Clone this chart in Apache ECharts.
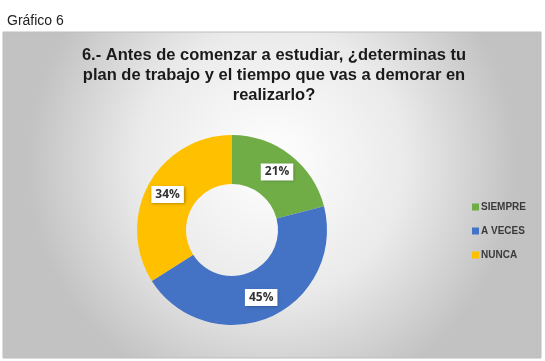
<!DOCTYPE html>
<html>
<head>
<meta charset="utf-8">
<script src="https://cdn.jsdelivr.net/npm/echarts@6/dist/echarts.min.js"></script>
<style>
  html, body { margin: 0; padding: 0; background: #fff; }
  #chart { width: 545px; height: 361px; }
</style>
</head>
<body>
<div id="chart"></div>
<script>
// datos del gráfico
const categorias = ['SIEMPRE', 'A VECES', 'NUNCA'];
const porcentajes = [21, 45, 34];
const colores = ['#70ad47', '#4472c4', '#ffc000'];
const titulo = '6.- Antes de comenzar a estudiar, ¿determinas tu\nplan de trabajo y el tiempo que vas a demorar en\nrealizarlo?';

const myChart = echarts.init(document.getElementById('chart'));

const option = {
  animation: false,
  graphic: [
    {
      type: 'rect',
      shape: { x: 3, y: 32, width: 538, height: 326 },
      style: {
        fill: new echarts.graphic.RadialGradient(0.5, 0.4, 0.75, [
          { offset: 0, color: '#ffffff' },
          { offset: 0.55, color: '#eaeaea' },
          { offset: 1, color: '#c2c2c2' }
        ]),
        stroke: '#bdbdbd',
        lineWidth: 1
      },
      z: -10
    },
    {
      type: 'text',
      left: 7,
      top: 14,
      style: { text: 'Gráfico 6', font: '14px "Liberation Sans", Arial, sans-serif', fill: '#222' }
    }
  ],
  title: {
    text: titulo,
    left: 269,
    textAlign: 'center',
    top: 40,
    textStyle: {
      fontFamily: '"Liberation Sans", Arial, sans-serif',
      fontSize: 16.5,
      fontWeight: 'bold',
      color: '#1a1a1a',
      lineHeight: 20
    }
  },
  legend: {
    orient: 'vertical',
    left: 467,
    top: 197,
    itemWidth: 7,
    itemHeight: 7,
    itemGap: 14,
    icon: 'rect',
    data: categorias,
    textStyle: {
      fontFamily: '"Liberation Sans", Arial, sans-serif',
      fontSize: 10,
      fontWeight: 'bold',
      color: '#3a3a3a',
      padding: [0, 0, 0, -3]
    }
  },
  series: [
    {
      type: 'pie',
      center: [232, 230],
      radius: [46, 95],
      startAngle: 90,
      clockwise: true,
      itemStyle: { borderWidth: 0 },
      label: {
        show: true,
        position: 'inside',
        formatter: '{c}%',
        fontFamily: '"Open Sans", "Liberation Sans", sans-serif',
        fontSize: 12,
        fontWeight: 'bold',
        color: '#333',
        backgroundColor: '#ffffff',
        padding: [3, 4, 2, 4],
        shadowColor: 'rgba(0,0,0,0.35)',
        shadowBlur: 3,
        shadowOffsetX: 1,
        shadowOffsetY: 1
      },
      labelLine: { show: false },
      data: categorias.map((c, i) => ({
        name: c,
        value: porcentajes[i],
        itemStyle: { color: colores[i] }
      }))
    }
  ]
};

myChart.setOption(option);
</script>
</body>
</html>
